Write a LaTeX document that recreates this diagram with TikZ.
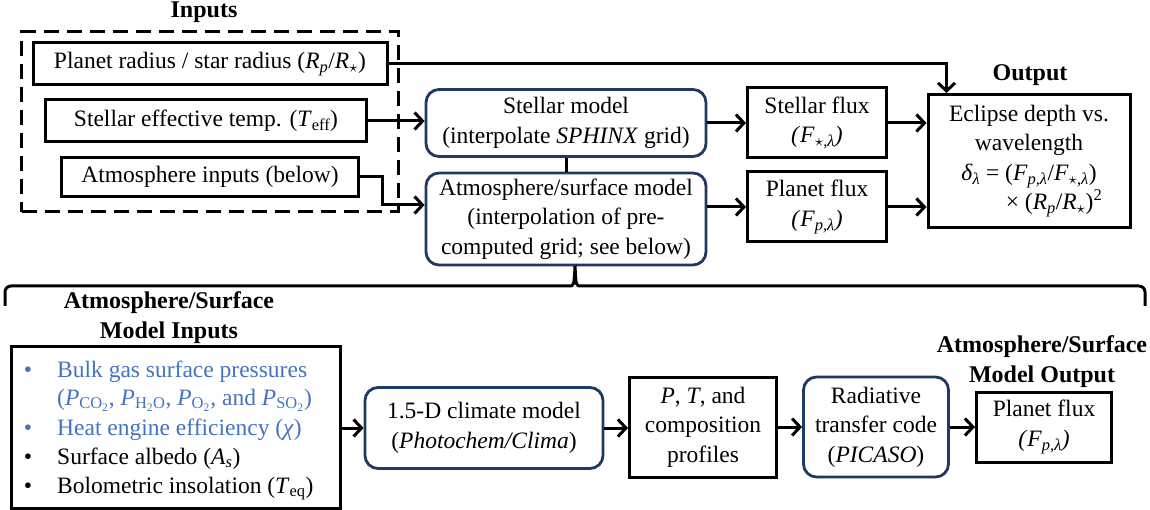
\documentclass[tikz,border=0pt]{standalone}
\usepackage{fontspec}
\setmainfont{Liberation Serif}
\usetikzlibrary{arrows.meta,calc}
\definecolor{navy}{RGB}{32,56,100}
\definecolor{blu}{RGB}{68,114,196}
\newcommand\rs{\textsubscript{$\star$}}
\newcommand\Fs{\textit{F}\textsubscript{$\star$,\textit{λ}}}
\newcommand\Fp{\textit{F}\textsubscript{\textit{p,λ}}}
\newcommand\RpRs{\textit{R}\textsubscript{\textit{p}}/\textit{R}\rs}
\begin{document}
\begin{tikzpicture}[x=1pt,y=-1pt,
  font=\fontsize{23.5}{29.5}\selectfont,
  box/.style={draw, line width=3pt, inner sep=0pt, align=center},
  rbox/.style={draw=navy, line width=2.8pt, rounded corners=13pt, inner sep=0pt, align=center},
  ttl/.style={font=\fontsize{24}{30}\selectfont\bfseries, align=center, inner sep=0pt},
  arr/.style={line width=3pt, -{Straight Barb[length=8pt,width=17pt]}},
  ln/.style={line width=3pt},
  txt/.style={inner sep=0pt, anchor=base west}]
\useasboundingbox (0,0) rectangle (1150,510);

% Inputs
\node[draw, line width=3pt, dash pattern=on 15pt off 8pt, minimum width=377pt, minimum height=180pt] (inbox) at (210,122) {};
\node[ttl, anchor=base] (inttl) at (204,18) {Inputs};
\node[box, minimum width=354pt, minimum height=42pt] (rp) at (210,64) {Planet radius / star radius (\RpRs)};
\node[box, minimum width=321pt, minimum height=42pt] (teff) at (206,121) {Stellar effective temp. (\textit{T}\textsubscript{eff})};
\node[box, minimum width=297pt, minimum height=39pt] (atin) at (210,177) {Atmosphere inputs (below)};

% Models
\node[rbox, minimum width=280pt, minimum height=67pt] (stm) at (566,123) {Stellar model\\(interpolate \textit{SPHINX} grid)};
\node[rbox, minimum width=280pt, minimum height=92pt] (atm) at (566,219) {Atmosphere/surface model\\(interpolation of pre-\\computed grid; see below)};

% Fluxes
\node[box, minimum width=139pt, minimum height=70pt] (sflux) at (817,123) {Stellar flux\\\textit{(}\Fs\textit{)}};
\node[box, minimum width=139pt, minimum height=70pt] (pflux) at (817,207) {Planet flux\\\textit{(}\Fp\textit{)}};

% Output
\node[ttl] (outttl) at (1030,75) {Output};
\node[box, minimum width=202pt, minimum height=133pt] (out) at (1029,161) {Eclipse depth vs.\\wavelength\\\textit{δ}\textsubscript{\textit{λ}} = (\Fp/\Fs)\\\hspace*{50pt}× (\RpRs)\textsuperscript{2}};

% Top connectors
\draw[arr] (rp.east) -| ([xshift=20pt]out.north west);
\draw[arr] (teff.east) -- (teff.east -| stm.west);
\draw[arr] (atin.east) -- ++(22,0) |- ([yshift=14pt]atm.west);
\draw[ln] (stm.south) -- (atm.north);
\draw[arr] (stm.east) -- (stm.east -| sflux.west);
\draw[arr] (atm.east |- pflux.west) -- (pflux.west);
\draw[arr] (sflux.east) -- (sflux.east -| out.west);
\draw[arr] (pflux.east) -- (pflux.east -| out.west);

% Brace
\coordinate (btip) at (575,266);
\draw[ln] (5,306) [rounded corners=6pt] -- (5,286) [sharp corners] -- (569,286)
  .. controls (574,286) .. (btip) .. controls (576,286) .. (581,286)
  [rounded corners=6pt] -- (1145,286) -- (1145,306);

% Bottom section
\node[ttl] (t2) at (169,318) {Atmosphere/Surface\\Model Inputs};
\node[box, minimum width=329pt, minimum height=162pt] (ami) at (176,427) {};
\node[txt, anchor=base, text=blu] (b1) at (28,377) {•};
\node[txt, text=blu] (l1) at (57,377) {Bulk gas surface pressures};
\node[txt, text=blu] (l2) at (57,405) {(\textit{P}\textsubscript{CO\textsubscript{2}}, \textit{P}\textsubscript{H\textsubscript{2}O}, \textit{P}\textsubscript{O\textsubscript{2}}, and \textit{P}\textsubscript{SO\textsubscript{2}})};
\node[txt, anchor=base, text=blu] (b3) at (28,435) {•};
\node[txt, text=blu] (l3) at (57,435) {Heat engine efficiency (\textit{χ})};
\node[txt, anchor=base] (b4) at (28,464) {•};
\node[txt] (l4) at (57,464) {Surface albedo (\textit{A}\textsubscript{\textit{s}})};
\node[txt, anchor=base] (b5) at (28,493) {•};
\node[txt] (l5) at (57,493) {Bolometric insolation (\textit{T}\textsubscript{eq})};

\node[rbox, minimum width=238pt, minimum height=81pt] (clim) at (484,428) {1.5-D climate model\\(\textit{Photochem/Clima})};
\node[box, minimum width=147pt, minimum height=100pt] (pt) at (703,427) {\textit{P}, \textit{T}, and\\composition\\profiles};
\node[rbox, minimum width=145pt, minimum height=100pt] (rt) at (876,427) {Radiative\\transfer code\\(\textit{PICASO})};
\node[ttl] (t3) at (1042,362) {Atmosphere/Surface\\Model Output};
\node[box, minimum width=135pt, minimum height=70pt] (pf2) at (1044,427) {Planet flux\\\textit{(}\Fp\textit{)}};

\draw[arr] (ami.east |- clim.west) -- (clim.west);
\draw[arr] (clim.east) -- (clim.east -| pt.west);
\draw[arr] (pt.east) -- (rt.west);
\draw[arr] (rt.east) -- (pf2.west);
\end{tikzpicture}
\end{document}
